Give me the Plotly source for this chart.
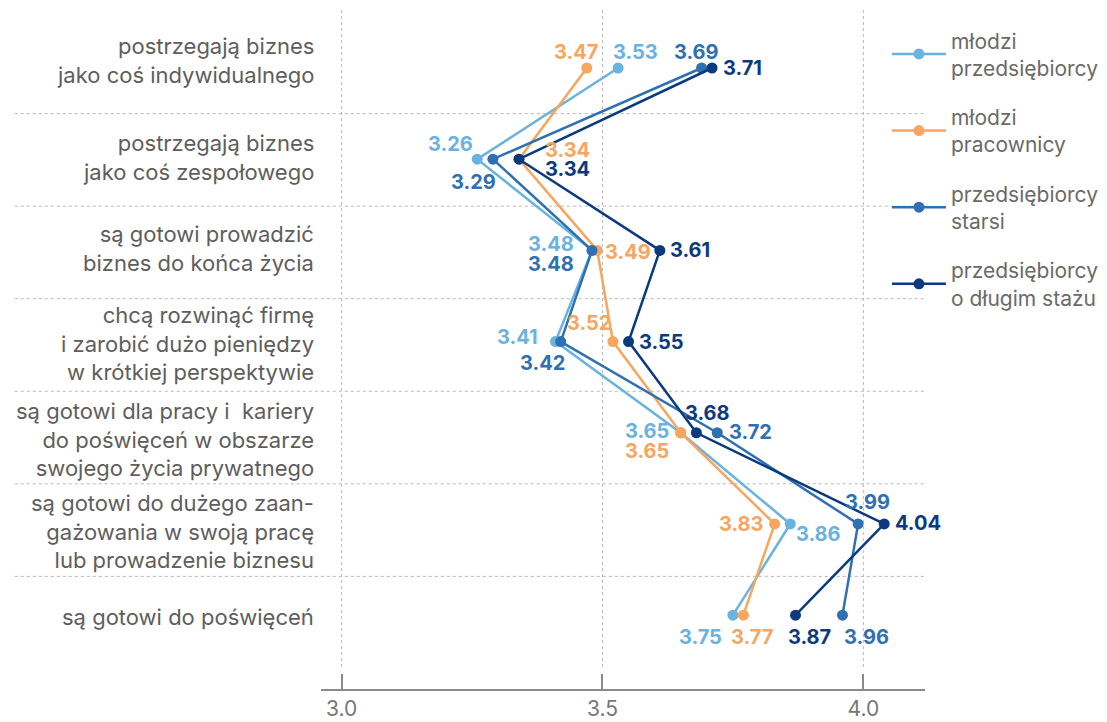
import plotly.graph_objects as go

# Statements (rows, top to bottom)
categories = [
    "postrzegają biznes<br>jako coś indywidualnego",
    "postrzegają biznes<br>jako coś zespołowego",
    "są gotowi prowadzić<br>biznes do końca życia",
    "chcą rozwinąć firmę<br>i zarobić dużo pieniędzy<br>w krótkiej perspektywie",
    "są gotowi dla pracy i  kariery<br>do poświęceń w obszarze<br>swojego życia prywatnego",
    "są gotowi do dużego zaan-<br>gażowania w swoją pracę<br>lub prowadzenie biznesu",
    "są gotowi do poświęceń",
]

series_names = [
    "młodzi<br>przedsiębiorcy",
    "młodzi<br>pracownicy",
    "przedsiębiorcy<br>starsi",
    "przedsiębiorcy<br>o długim stażu",
]

mlodzi_przedsiebiorcy = [3.53, 3.26, 3.48, 3.41, 3.65, 3.86, 3.75]
mlodzi_pracownicy = [3.47, 3.34, 3.49, 3.52, 3.65, 3.83, 3.77]
przedsiebiorcy_starsi = [3.69, 3.29, 3.48, 3.42, 3.72, 3.99, 3.96]
przedsiebiorcy_staz = [3.71, 3.34, 3.61, 3.55, 3.68, 4.04, 3.87]

x_ticks = [3.0, 3.5, 4.0]
x_tick_labels = ["3.0", "3.5", "4.0"]

colors = ["#6ab2e0", "#f8a55e", "#2e70b1", "#0b3a7f"]

series = [mlodzi_przedsiebiorcy, mlodzi_pracownicy, przedsiebiorcy_starsi, przedsiebiorcy_staz]

FONT = "Inter, Open Sans, Arial"

# pixel offsets (dx, dy) of each value label from its point, per series and row
label_offsets = [
    [(17, -16), (-27, -15), (-41, -6), (-38, -5), (-34, -2), (28, 10), (-32, 22)],
    [(-11, -16), (49, -9), (31, 2), (-24, -19), (-34, 18), (-33, 0), (9, 22)],
    [(-5, -16), (-19, 23), (-41, 14), (-18, 21), (33, -1), (9, -22), (24, 22)],
    [(30, 0), (49, 10), (30, 0), (33, 0), (11, -20), (34, -1), (14, 22)],
]

# vertical nudge (px, down is positive) of each row caption
caption_nudge = [-8, -2, -2, 2, 7, 8, 2]

rows = list(range(len(categories)))

fig = go.Figure()
for name, vals, col in zip(series_names, series, colors):
    fig.add_trace(go.Scatter(
        x=vals, y=rows, mode="lines+markers", name=name, legendgroup=name,
        line=dict(color=col, width=2.5),
        marker=dict(color=col, size=11),
        hoverinfo="x",
    ))

annotations = []
# row captions on the left
for r, (cat, nudge) in enumerate(zip(categories, caption_nudge)):
    annotations.append(dict(
        x=0, y=r, xref="paper", yref="y", text=cat, showarrow=False,
        xanchor="right", yanchor="middle", align="right", xshift=-5, yshift=-nudge,
        font=dict(family=FONT, size=22, color="#5e5e5e"),
    ))
# value labels next to the points
for vals, col, offs in zip(series, colors, label_offsets):
    for r, (v, (dx, dy)) in enumerate(zip(vals, offs)):
        annotations.append(dict(
            x=v, y=r, xref="x", yref="y", text=f"{v:.2f}", showarrow=False,
            xshift=dx, yshift=-dy,
            font=dict(family=FONT, size=20, color=col, weight=700),
        ))

shapes = []
# dotted separators between rows
for pos in [0.5, 1.515, 2.53, 3.545, 4.56, 5.575]:
    shapes.append(dict(type="line", xref="paper", yref="y", x0=-0.507, x1=1.0,
                       y0=pos, y1=pos, line=dict(color="#b8b8b8", width=1, dash="dot"),
                       layer="below"))
# dotted vertical gridlines
for t in x_ticks:
    shapes.append(dict(type="line", xref="x", yref="paper", x0=t, x1=t,
                       y0=0.0324, y1=1.0, line=dict(color="#b8b8b8", width=1, dash="dot"),
                       layer="below"))

fig.update_layout(
    width=1107, height=722,
    margin=dict(l=321, r=182, t=10, b=33, autoexpand=False),
    paper_bgcolor="white", plot_bgcolor="white",
    font=dict(family=FONT, color="#666666"),
    showlegend=True,
    legend=dict(
        x=0.937, xanchor="left", y=0.985, yanchor="top",
        font=dict(family=FONT, size=21, color="#6a6a6a"),
        itemwidth=54,
        tracegroupgap=19, valign="middle", bgcolor="rgba(0,0,0,0)",
    ),
    annotations=annotations,
    shapes=shapes,
)

fig.update_xaxes(
    range=[2.9605, 4.1182], tickvals=x_ticks, ticktext=x_tick_labels,
    showgrid=False, zeroline=False, showline=True, linecolor="#8a8a8a", linewidth=1.5,
    ticks="inside", ticklen=15, tickwidth=1.5, tickcolor="#8a8a8a",
    tickfont=dict(family=FONT, size=21, color="#777777"), ticklabelstandoff=0,
    automargin=False,
)
fig.update_yaxes(
    range=[6.81, -0.636], showticklabels=False,
    showgrid=False, zeroline=False, showline=False, ticks="",
    automargin=False,
)

fig.write_html("out.html")
